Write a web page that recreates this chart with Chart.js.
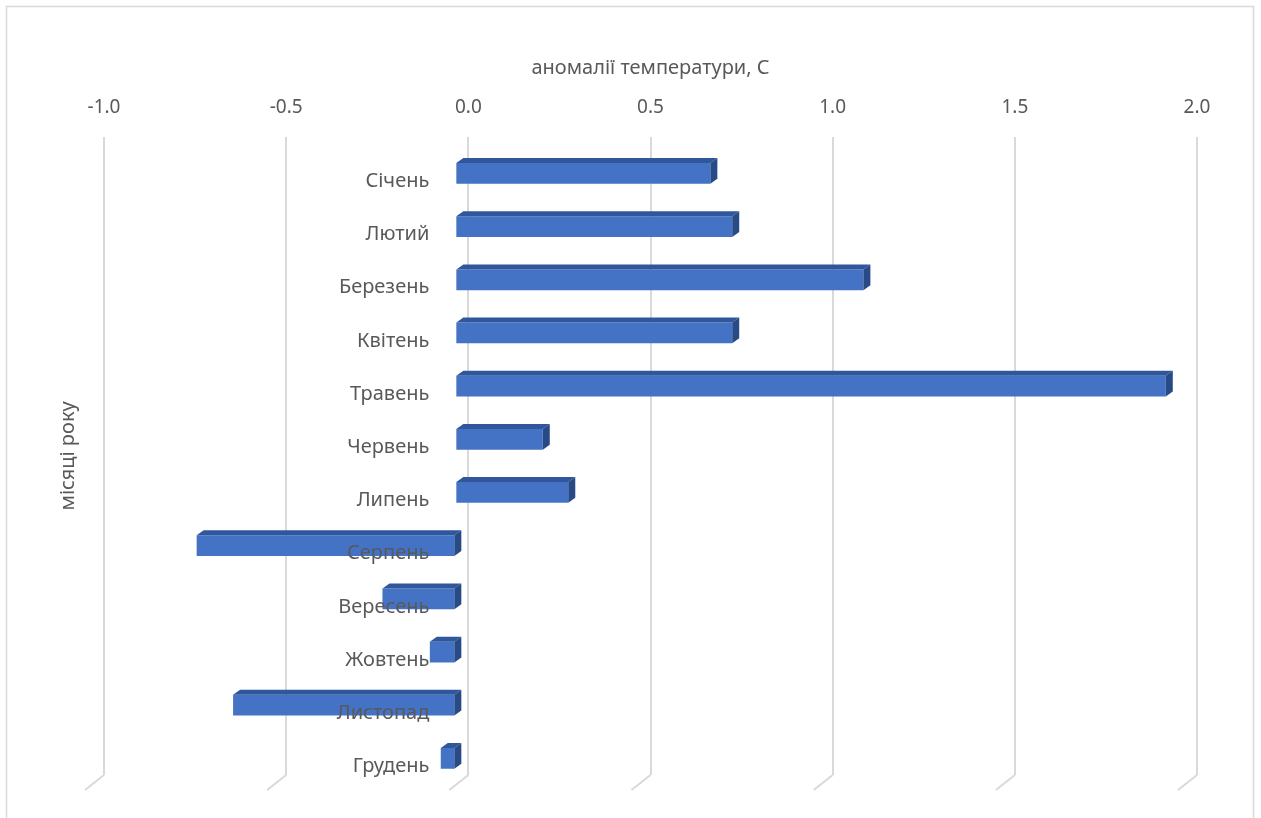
<!DOCTYPE html>
<html>
<head>
<meta charset="utf-8">
<script src="https://cdn.jsdelivr.net/npm/chart.js@4"></script>
<style>
    html, body { margin: 0; padding: 0; background: #fff; }
    #wrap { position: relative; width: 1261px; height: 818px; }
</style>
</head>
<body>
<div id="wrap"><canvas id="chartAnom"></canvas></div>
<script>
// ── Data ──────────────────────────────────────────────────────────────────
const months = ['Січень', 'Лютий', 'Березень', 'Квітень', 'Травень', 'Червень',
                'Липень', 'Серпень', 'Вересень', 'Жовтень', 'Листопад', 'Грудень'];
const anomalies = [0.70, 0.76, 1.12, 0.76, 1.95, 0.24, 0.31, -0.71, -0.20, -0.07, -0.61, -0.04];
const xTitle = 'аномалії температури, С';
const yTitle = 'місяці року';

(function () {
    'use strict';

    const FONT  = '"Noto Sans", "Open Sans", sans-serif';
    const GREY  = '#595959';
    const GRID  = '#d9d9d9';
    // offset of the front plane (bars) from the back plane (grid)
    const SHIFT_X = -13, SHIFT_Y = 10;
    const DEPTH_X = 7,   DEPTH_Y = 5;

    // Draws the frame, the 3-D faces of the bars, the grid "feet" and labels
    const excel3d = {
        id: 'excel3d',
        beforeDraw(chart) {
            const c = chart.ctx;
            c.save();
            c.strokeStyle = GRID;
            c.lineWidth = 1.5;
            c.strokeRect(6.5, 6.5, 1247, 840);
            c.restore();
        },
        afterDraw(chart) {
            // perspective feet of the vertical grid lines
            const c = chart.ctx, xs = chart.scales.x, area = chart.chartArea;
            c.save();
            c.strokeStyle = GRID;
            c.lineWidth = 2;
            xs.ticks.forEach(t => {
                const px = xs.getPixelForValue(t.value);
                c.beginPath();
                c.moveTo(px, area.bottom);
                c.lineTo(px - 19, area.bottom + 15);
                c.stroke();
            });
            c.restore();
        },
        beforeDatasetsDraw(chart) {
            chart.ctx.save();
            chart.ctx.translate(SHIFT_X, SHIFT_Y);
        },
        afterDatasetsDraw(chart) {
            const c = chart.ctx;
            const meta = chart.getDatasetMeta(0);
            meta.data.forEach(bar => {
                const p = bar.getProps(['x', 'y', 'base', 'height'], true);
                const left = Math.min(p.x, p.base), right = Math.max(p.x, p.base);
                const top = p.y - p.height / 2, bottom = p.y + p.height / 2;
                // top face
                c.fillStyle = '#30579c';
                c.beginPath();
                c.moveTo(left, top);
                c.lineTo(right, top);
                c.lineTo(right + DEPTH_X, top - DEPTH_Y);
                c.lineTo(left + DEPTH_X, top - DEPTH_Y);
                c.closePath();
                c.fill();
                // side face
                c.fillStyle = '#284a86';
                c.beginPath();
                c.moveTo(right, top);
                c.lineTo(right + DEPTH_X, top - DEPTH_Y);
                c.lineTo(right + DEPTH_X, bottom - DEPTH_Y);
                c.lineTo(right, bottom);
                c.closePath();
                c.fill();
            });
            c.restore();

            // category labels, next to the zero line (over the bars)
            const xs = chart.scales.x, ys = chart.scales.y;
            const x0 = xs.getPixelForValue(0);
            c.save();
            c.font = '20px ' + FONT;
            c.fillStyle = GREY;
            c.textAlign = 'right';
            c.textBaseline = 'middle';
            months.forEach((m, i) => {
                c.fillText(m, x0 - 39, ys.getPixelForValue(i) + 18);
            });
            c.restore();
        },
    };

    function init() {
        const canvas = document.getElementById('chartAnom');
        if (!canvas) return;

        new Chart(canvas, {
            type: 'bar',
            data: {
                labels: months,
                datasets: [{
                    data: anomalies,
                    backgroundColor: '#4472c4',
                    borderWidth: 0,
                    barPercentage: 0.39,
                    categoryPercentage: 1,
                }],
            },
            options: {
                indexAxis: 'y',
                responsive: true,
                maintainAspectRatio: false,
                animation: false,
                layout: { padding: { top: 58, left: 48, right: 64, bottom: 43 } },
                plugins: {
                    legend : { display: false },
                    tooltip: { enabled: false },
                },
                scales: {
                    x: {
                        position: 'top',
                        min: -1,
                        max: 2,
                        grid  : { color: GRID, lineWidth: 2, drawTicks: false },
                        border: { display: false },
                        ticks : {
                            stepSize: 0.5,
                            padding: 18,
                            color: GREY,
                            font: { family: FONT, size: 19 },
                            callback: v => v.toFixed(1),
                        },
                        title: {
                            display: true,
                            text: xTitle,
                            color: GREY,
                            font: { family: FONT, size: 20, lineHeight: 1 },
                            padding: { top: 0, bottom: 0 },
                        },
                    },
                    y: {
                        grid  : { display: false },
                        border: { display: false },
                        ticks : { display: false },
                        title: {
                            display: true,
                            text: yTitle,
                            color: GREY,
                            font: { family: FONT, size: 20 },
                            padding: { top: 8, bottom: 16 },
                        },
                    },
                },
            },
            plugins: [excel3d],
        });
    }

    if (document.readyState === 'loading') {
        document.addEventListener('DOMContentLoaded', init);
    } else {
        init();
    }
})();
</script>
</body>
</html>
